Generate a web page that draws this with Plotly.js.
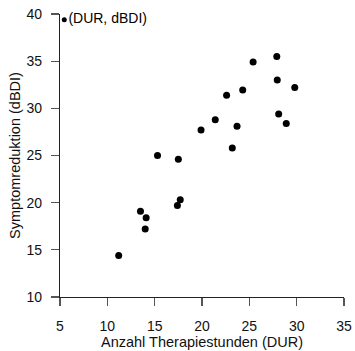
<!DOCTYPE html>
<html>
<head>
<meta charset="utf-8">
<script src="https://cdn.plot.ly/plotly-3.0.1.min.js"></script>
<style>html,body{margin:0;padding:0;background:#fff;}#chart{width:355px;height:351px;}</style>
</head>
<body>
<div id="chart"></div>
<script>
// Data
const dur  = [11.2, 13.5, 14.1, 14.0, 15.3, 17.4, 17.7, 17.5, 19.9, 21.4, 22.6, 23.2, 23.7, 24.3, 25.4, 27.9, 27.95, 28.1, 28.9, 29.8];
const dbdi = [14.4, 19.1, 18.4, 17.2, 25.0, 19.7, 20.3, 24.6, 27.7, 28.8, 31.4, 25.8, 28.1, 31.95, 34.9, 35.5, 33.0, 29.4, 28.4, 32.2];
const legendX = [5.45];
const legendY = [39.4];
const legendLabel = ["(DUR, dBDI)"];
const xTicks = [5, 10, 15, 20, 25, 30, 35];
const yTicks = [10, 15, 20, 25, 30, 35, 40];

const font = "Liberation Sans, Arial, sans-serif";

const traces = [
  {x: dur, y: dbdi, type: "scatter", mode: "markers",
   marker: {color: "#000", size: 7}, cliponaxis: false, hoverinfo: "skip"},
  {x: legendX, y: legendY, type: "scatter", mode: "markers+text",
   text: legendLabel, textposition: "middle right",
   textfont: {family: font, size: 14, color: "#000"},
   marker: {color: "#000", size: 5}, cliponaxis: false, hoverinfo: "skip"}
];

const axisCommon = {
  showgrid: false, zeroline: false, showline: true,
  linecolor: "#222", linewidth: 1.2,
  ticks: "outside", ticklen: 8, tickwidth: 1.2, tickcolor: "#555",
  tickfont: {family: font, size: 14, color: "#111"},
  fixedrange: true
};

const layout = {
  width: 355, height: 351,
  margin: {l: 60, r: 11, t: 14, b: 54},
  paper_bgcolor: "#fff", plot_bgcolor: "#fff",
  showlegend: false,
  xaxis: Object.assign({}, axisCommon, {
    range: [5, 35], tickvals: xTicks, ticklabelstandoff: 8,
    title: {text: "Anzahl Therapiestunden (DUR)", font: {family: font, size: 14.5, color: "#111"}, standoff: 3}
  }),
  yaxis: Object.assign({}, axisCommon, {
    range: [10, 40], tickvals: yTicks, ticklabelstandoff: 6,
    title: {text: "Symptomreduktion (dBDI)", font: {family: font, size: 14.5, color: "#111"}, standoff: 2}
  })
};

Plotly.newPlot("chart", traces, layout, {displayModeBar: false, staticPlot: true});
</script>
</body>
</html>
